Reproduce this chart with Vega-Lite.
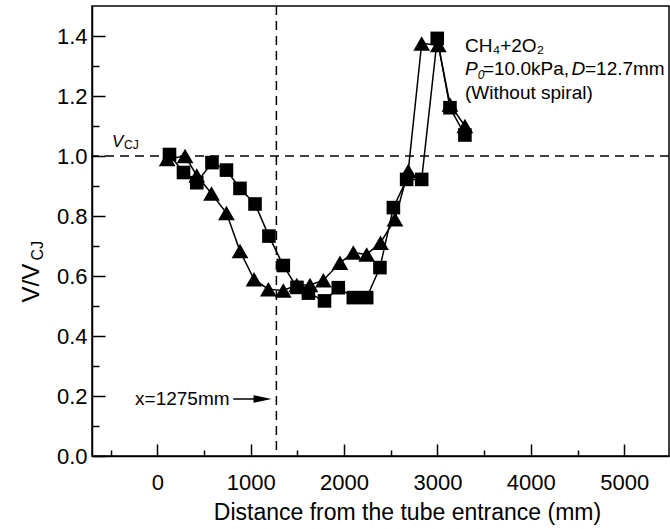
{
  "$schema": "https://vega.github.io/schema/vega-lite/v6.json",
  "width": 577,
  "height": 450,
  "autosize": {"type": "none"},
  "padding": {"left": 92, "top": 6, "right": 1, "bottom": 73},
  "background": "white",
  "config": {
    "view": {"stroke": "black", "strokeWidth": 1.5},
    "font": "Liberation Sans",
    "text": {"font": "Liberation Sans", "color": "black"},
    "axis": {
      "grid": false,
      "domainColor": "black",
      "domainWidth": 1.5,
      "tickColor": "black",
      "tickWidth": 1.5,
      "labelColor": "black",
      "titleColor": "black",
      "labelFont": "Liberation Sans",
      "titleFont": "Liberation Sans",
      "titleFontWeight": "normal",
      "labelFontSize": 22
    }
  },
  "resolve": {"axis": {"x": "independent", "y": "independent"}},
  "datasets": {
    "pts": [
      {"series": "tri", "x": 105, "v": 0.99},
      {"series": "tri", "x": 297, "v": 1.0},
      {"series": "tri", "x": 422, "v": 0.935},
      {"series": "tri", "x": 580, "v": 0.875},
      {"series": "tri", "x": 740, "v": 0.81},
      {"series": "tri", "x": 885, "v": 0.683},
      {"series": "tri", "x": 1035, "v": 0.589},
      {"series": "tri", "x": 1189, "v": 0.556},
      {"series": "tri", "x": 1349, "v": 0.552},
      {"series": "tri", "x": 1493, "v": 0.57},
      {"series": "tri", "x": 1635, "v": 0.57},
      {"series": "tri", "x": 1778, "v": 0.586},
      {"series": "tri", "x": 1956, "v": 0.644},
      {"series": "tri", "x": 2099, "v": 0.678},
      {"series": "tri", "x": 2242, "v": 0.672},
      {"series": "tri", "x": 2390, "v": 0.711},
      {"series": "tri", "x": 2545, "v": 0.789},
      {"series": "tri", "x": 2687, "v": 0.95},
      {"series": "tri", "x": 2831, "v": 1.375},
      {"series": "tri", "x": 3009, "v": 1.37},
      {"series": "tri", "x": 3134, "v": 1.172},
      {"series": "tri", "x": 3294, "v": 1.1},
      {"series": "sq", "x": 130, "v": 1.005},
      {"series": "sq", "x": 280, "v": 0.945},
      {"series": "sq", "x": 422, "v": 0.911},
      {"series": "sq", "x": 585, "v": 0.978},
      {"series": "sq", "x": 740, "v": 0.953},
      {"series": "sq", "x": 885, "v": 0.892},
      {"series": "sq", "x": 1046, "v": 0.84},
      {"series": "sq", "x": 1195, "v": 0.733},
      {"series": "sq", "x": 1349, "v": 0.635},
      {"series": "sq", "x": 1495, "v": 0.562},
      {"series": "sq", "x": 1618, "v": 0.543},
      {"series": "sq", "x": 1790, "v": 0.517},
      {"series": "sq", "x": 1938, "v": 0.561},
      {"series": "sq", "x": 2099, "v": 0.528},
      {"series": "sq", "x": 2242, "v": 0.528},
      {"series": "sq", "x": 2384, "v": 0.628},
      {"series": "sq", "x": 2528, "v": 0.828},
      {"series": "sq", "x": 2670, "v": 0.922},
      {"series": "sq", "x": 2831, "v": 0.922},
      {"series": "sq", "x": 2998, "v": 1.392},
      {"series": "sq", "x": 3134, "v": 1.161},
      {"series": "sq", "x": 3294, "v": 1.07}
    ]
  },
  "layer": [
    {
      "data": {"values": [{"v": 1.0}]},
      "mark": {"type": "rule", "color": "black", "strokeWidth": 1.5, "strokeDash": [9, 6]},
      "encoding": {
        "y": {
          "field": "v", "type": "quantitative",
          "scale": {"domain": [0, 1.5], "nice": false, "zero": false},
          "axis": {
            "orient": "left",
            "title": "V/V",
            "titleFontSize": 24,
            "titleAngle": 270,
            "titleAlign": "left",
            "titleBaseline": "alphabetic",
            "titleX": -54,
            "titleY": 296,
            "values": [0, 0.2, 0.4, 0.6, 0.8, 1.0, 1.2, 1.4],
            "format": ".1f",
            "tickSize": -13,
            "labelPadding": 18
          }
        }
      }
    },
    {
      "data": {"values": [{"x": 1275}]},
      "mark": {"type": "rule", "color": "black", "strokeWidth": 1.5, "strokeDash": [9, 6]},
      "encoding": {
        "x": {
          "field": "x", "type": "quantitative",
          "scale": {"domain": [-700, 5480], "nice": false, "zero": false},
          "axis": {
            "orient": "bottom",
            "title": "Distance from the tube entrance (mm)",
            "titleFontSize": 23,
            "titleX": 315,
            "titleY": 63,
            "titleAlign": "center",
            "titleBaseline": "alphabetic",
            "values": [0, 1000, 2000, 3000, 4000, 5000],
            "format": "d",
            "tickSize": -12,
            "labelPadding": 28
          }
        }
      }
    },
    {
      "data": {"name": "pts"},
      "mark": {"type": "line", "color": "black", "strokeWidth": 1.5},
      "encoding": {
        "x": {
          "field": "x", "type": "quantitative",
          "axis": {"orient": "bottom", "title": null, "labels": false, "domain": false, "values": [-500, 500, 1500, 2500, 3500, 4500], "tickSize": -6}
        },
        "y": {
          "field": "v", "type": "quantitative",
          "axis": {"orient": "left", "title": null, "labels": false, "domain": false, "values": [0.1, 0.3, 0.5, 0.7, 0.9, 1.1, 1.3], "tickSize": -7}
        },
        "detail": {"field": "series"}
      }
    },
    {
      "data": {"name": "pts"},
      "mark": {"type": "point", "filled": true, "color": "black", "opacity": 1},
      "encoding": {
        "x": {"field": "x", "type": "quantitative", "axis": null},
        "y": {"field": "v", "type": "quantitative", "axis": null},
        "shape": {"field": "series", "type": "nominal", "scale": {"domain": ["tri", "sq"], "range": ["triangle-up", "square"]}, "legend": null},
        "size": {"field": "series", "type": "nominal", "scale": {"domain": ["tri", "sq"], "range": [280, 185]}, "legend": null}
      }
    },
    {
      "data": {"values": [{"x": 813, "x2": 1060, "y": 0.19}]},
      "mark": {"type": "rule", "color": "black", "strokeWidth": 1.5},
      "encoding": {
        "x": {"field": "x", "type": "quantitative", "axis": null},
        "x2": {"field": "x2"},
        "y": {"field": "y", "type": "quantitative", "axis": null}
      }
    },
    {
      "data": {"values": [{"x": 1126, "y": 0.19}]},
      "mark": {"type": "point", "shape": "M-1,-0.42L1,0L-1,0.42Z", "size": 324, "filled": true, "color": "black", "opacity": 1},
      "encoding": {
        "x": {"field": "x", "type": "quantitative", "axis": null},
        "y": {"field": "y", "type": "quantitative", "axis": null}
      }
    },
    {
      "data": {"values": [{"x": -239, "y": 0.19, "t": "x=1275mm"}]},
      "mark": {"type": "text", "fontSize": 19, "align": "left", "baseline": "middle"},
      "encoding": {
        "x": {"field": "x", "type": "quantitative", "axis": null},
        "y": {"field": "y", "type": "quantitative", "axis": null},
        "text": {"field": "t"}
      }
    },
    {
      "data": {"values": [
        {"x": 3295, "y": 1.347, "t": "CH₄+2O₂"},
        {"x": 3487, "y": 1.269, "t": "=10.0kPa,"},
        {"x": 4580, "y": 1.269, "t": "=12.7mm"},
        {"x": 3295, "y": 1.189, "t": "(Without spiral)"}
      ]},
      "mark": {"type": "text", "fontSize": 19, "align": "left", "baseline": "alphabetic"},
      "encoding": {
        "x": {"field": "x", "type": "quantitative", "axis": null},
        "y": {"field": "y", "type": "quantitative", "axis": null},
        "text": {"field": "t"}
      }
    },
    {
      "data": {"values": [
        {"x": 3295, "y": 1.269, "t": "P"},
        {"x": 4435, "y": 1.269, "t": "D"}
      ]},
      "mark": {"type": "text", "fontSize": 19, "fontStyle": "italic", "align": "left", "baseline": "alphabetic"},
      "encoding": {
        "x": {"field": "x", "type": "quantitative", "axis": null},
        "y": {"field": "y", "type": "quantitative", "axis": null},
        "text": {"field": "t"}
      }
    },
    {
      "data": {"values": [{"x": 3431, "y": 1.258, "t": "0"}]},
      "mark": {"type": "text", "fontSize": 12, "fontStyle": "italic", "align": "left", "baseline": "alphabetic"},
      "encoding": {
        "x": {"field": "x", "type": "quantitative", "axis": null},
        "y": {"field": "y", "type": "quantitative", "axis": null},
        "text": {"field": "t"}
      }
    },
    {
      "data": {"values": [{"x": -485, "y": 1.029, "t": "V"}]},
      "mark": {"type": "text", "fontSize": 17, "fontStyle": "italic", "align": "left", "baseline": "alphabetic"},
      "encoding": {
        "x": {"field": "x", "type": "quantitative", "axis": null},
        "y": {"field": "y", "type": "quantitative", "axis": null},
        "text": {"field": "t"}
      }
    },
    {
      "data": {"values": [{"x": -356, "y": 1.022, "t": "CJ"}]},
      "mark": {"type": "text", "fontSize": 12, "align": "left", "baseline": "alphabetic"},
      "encoding": {
        "x": {"field": "x", "type": "quantitative", "axis": null},
        "y": {"field": "y", "type": "quantitative", "axis": null},
        "text": {"field": "t"}
      }
    },
    {
      "data": {"values": [{"x": -1224, "y": 0.652, "t": "CJ"}]},
      "mark": {"type": "text", "fontSize": 16, "angle": 270, "align": "left", "baseline": "alphabetic"},
      "encoding": {
        "x": {"field": "x", "type": "quantitative", "axis": null},
        "y": {"field": "y", "type": "quantitative", "axis": null},
        "text": {"field": "t"}
      }
    }
  ]
}
